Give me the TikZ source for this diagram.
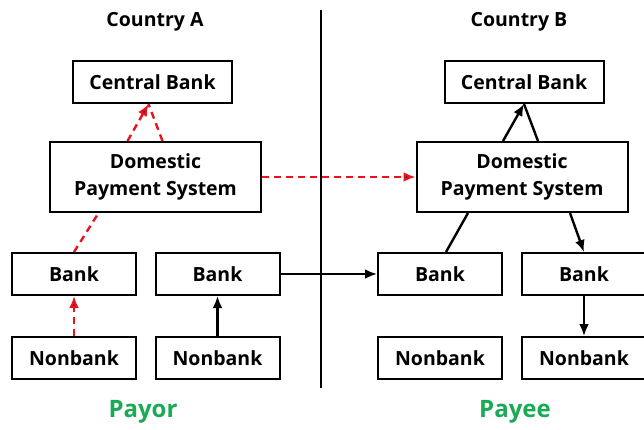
\documentclass[tikz,border=0pt]{standalone}
\usepackage{fontspec}
\setmainfont{Open Sans}
\usepackage{tikz}
\usetikzlibrary{positioning,arrows,arrows.meta}
\definecolor{payred}{RGB}{230,20,30}
\definecolor{paygreen}{RGB}{26,170,85}

\begin{document}
\begin{tikzpicture}[x=1pt,y=-1pt,>={Latex[length=12pt,width=10pt]},line width=2pt,
    box/.style={draw,inner sep=0pt,minimum width=124pt,minimum height=42pt,font=\fontsize{19.5}{27}\selectfont\bfseries},
    wide/.style={box,minimum width=159pt},
    sys/.style={box,minimum width=211pt,minimum height=70pt,align=center},
    title/.style={font=\fontsize{19.5}{23}\selectfont\bfseries},
    side/.style={font=\fontsize{24}{28}\selectfont\bfseries,text=paygreen},
    red/.style={draw=payred,dashed,dash pattern=on 7pt off 5pt}]
    \useasboundingbox (0,0) rectangle (644,429);

    % country A
    \node[title] (TA) at (155,22) {Country A};
    \node[wide] (A) at (152.5,82) {Central Bank};
    \node[sys]  (B) at (155.5,177) {Domestic\\ Payment System};
    \node[box]  (C) at (74,274) {Bank};
    \node[box]  (D) at (217.5,274) {Bank};
    \node[box]  (E) at (74,358) {Nonbank};
    \node[box]  (F) at (217.5,358) {Nonbank};
    \node[side] (PA) at (143,412) {Payor};

    % country B
    \node[title] (TB) at (519,22) {Country B};
    \node[wide] (G) at (524,82) {Central Bank};
    \node[sys]  (H) at (522,177) {Domestic\\ Payment System};
    \node[box]  (I) at (440,274) {Bank};
    \node[box]  (J) at (584,274) {Bank};
    \node[box]  (K) at (440,358) {Nonbank};
    \node[box]  (L) at (584,358) {Nonbank};
    \node[side] (PB) at (515,412) {Payee};

    % divider
    \coordinate (U) at (321,10);
    \coordinate (V) at (321,388);
    \draw[line width=1.2pt] (U) -- (V);

    % red path of the payor
    \path[red,line width=2.4pt]
    (E) edge [->]         node {} (C)
    (C.north) edge        node {} ([xshift=-57pt]B.south)
    ([xshift=-28pt]B.north) edge [->] node {} ([xshift=-4pt]A.south)
    ([xshift=7pt]B.north) edge node {} ([xshift=-4pt]A.south)
    (B) edge [->]         node {} (H);

    % black paths
    \path[->,line width=2.4pt]
    (F) edge              node {} (D)
    (D) edge              node {} (I)
    ([xshift=-19pt]H.north) edge node {} (G.south)
    ([xshift=48pt]H.south) edge node {} (J.north)
    (J) edge              node {} (L);
    \path[line width=2.4pt]
    ([xshift=6pt]I.north) edge node {} ([xshift=-54pt]H.south)
    ([xshift=16pt]H.north) edge node {} (G.south);

\end{tikzpicture}
\end{document}
